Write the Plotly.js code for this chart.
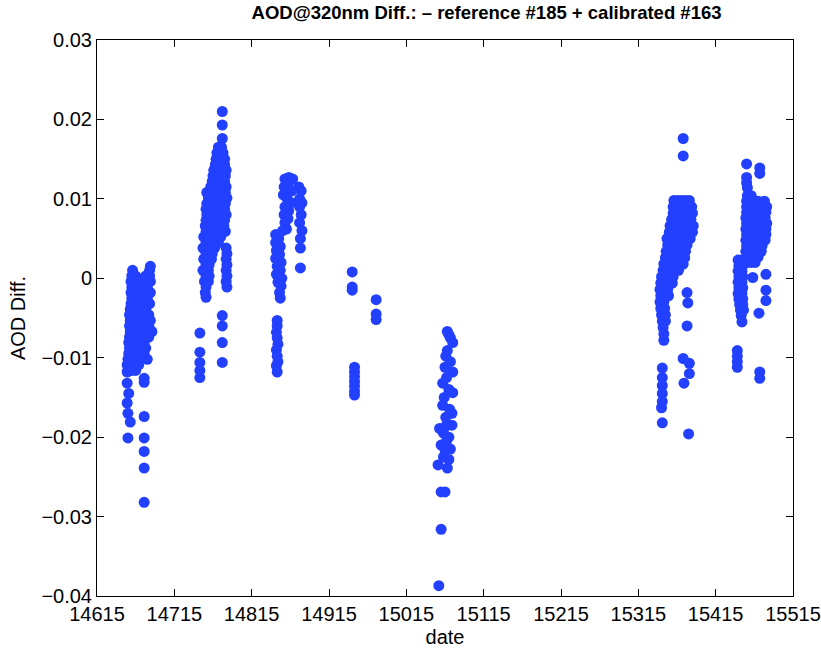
<!DOCTYPE html>
<html>
<head>
<meta charset="utf-8">
<script src="https://cdn.plot.ly/plotly-3.0.1.min.js"></script>
<style>html,body{margin:0;padding:0;background:#fff}#chart{width:821px;height:650px}</style>
</head>
<body>
<div id="chart"></div>
<script>
// Cluster A
var dateA = [14661,14683,14684,
 14660,14665,14678,14683,
 14659,14664,14669,14674,14679,14684,
 14660,14665,14670,14675,14680,
 14659,14664,14669,14674,14679,14684,
 14660,14665,14670,14675,14680,
 14659,14664,14669,14674,14679,14683,
 14658,14663,14668,14673,14678,
 14657,14662,14667,14672,14677,14682,
 14658,14663,14668,14673,14678,14684,
 14657,14662,14667,14672,14677,14682,
 14658,14663,14668,14673,14678,14686,
 14657,14662,14667,14672,14677,14682,
 14656,14661,14666,14671,14676,
 14657,14662,14667,14672,14678,
 14656,14661,14666,14671,14676,
 14655,14660,14665,14670,14680,
 14654,14659,14664,14669,
 14655,14660,14665,
 14654,14654,14656,14654,14655,14658,14655,
 14676,14676,14676,14676,14676,14676,14676];
var aodA  = [0.001,0.001,0.0015,
 0.0003,0.0003,0.0003,0.0003,
 -0.0004,-0.0004,-0.0004,-0.0004,-0.0004,-0.0004,
 -0.0011,-0.0011,-0.0011,-0.0011,-0.0011,
 -0.0018,-0.0018,-0.0018,-0.0018,-0.0018,-0.0018,
 -0.0025,-0.0025,-0.0025,-0.0025,-0.0025,
 -0.0032,-0.0032,-0.0032,-0.0032,-0.0032,-0.0032,
 -0.0039,-0.0039,-0.0039,-0.0039,-0.0039,
 -0.0046,-0.0046,-0.0046,-0.0046,-0.0046,-0.0046,
 -0.0053,-0.0053,-0.0053,-0.0053,-0.0053,-0.0053,
 -0.006,-0.006,-0.006,-0.006,-0.006,-0.006,
 -0.0067,-0.0067,-0.0067,-0.0067,-0.0067,-0.0067,
 -0.0074,-0.0074,-0.0074,-0.0074,-0.0074,-0.0074,
 -0.0081,-0.0081,-0.0081,-0.0081,-0.0081,
 -0.0088,-0.0088,-0.0088,-0.0088,-0.0088,
 -0.0095,-0.0095,-0.0095,-0.0095,-0.0095,
 -0.0102,-0.0102,-0.0102,-0.0102,-0.0102,
 -0.0109,-0.0109,-0.0109,-0.0109,
 -0.0116,-0.0116,-0.0116,
 -0.0118,-0.0132,-0.0145,-0.0157,-0.017,-0.0181,-0.0201,
 -0.0126,-0.0131,-0.0174,-0.0201,-0.0218,-0.0239,-0.0282];
// Cluster B
var dateB = [14777,14777,14777,
 14772,14776,
 14770,14774,14778,
 14769,14773,14777,14780,
 14768,14772,14776,14780,
 14766,14770,14774,14778,14782,
 14765,14769,14773,14777,14781,
 14764,14768,14772,14776,14780,
 14762,14766,14770,14774,14778,14782,
 14757,14761,14765,14769,14773,14777,14781,
 14759,14763,14767,14771,14775,14779,14783,
 14757,14761,14765,14769,14773,14777,14781,
 14756,14760,14764,14768,14772,14776,14780,
 14757,14761,14765,14769,14773,14777,14782,
 14756,14760,14764,14768,14772,14776,14780,
 14755,14759,14763,14767,14771,14775,14779,
 14756,14760,14764,14768,14772,14776,14781,
 14753,14759,14763,14767,14771,14775,
 14756,14760,14764,14768,14772,
 14752,14759,14763,14767,14782,
 14756,14760,14764,14783,
 14753,14759,14763,14782,
 14756,14760,14783,
 14752,14759,14782,
 14756,14760,14783,
 14754,14759,14782,
 14756,14783,
 14755,14756,
 14777,14777,14777,14777,
 14748,14748,14748,14748,14748];
var aodB  = [0.021,0.0193,0.0176,
 0.0165,0.0165,
 0.0158,0.0158,0.0158,
 0.015,0.015,0.015,0.015,
 0.0143,0.0143,0.0143,0.0143,
 0.0136,0.0136,0.0136,0.0136,0.0136,
 0.0129,0.0129,0.0129,0.0129,0.0129,
 0.0122,0.0122,0.0122,0.0122,0.0122,
 0.0115,0.0115,0.0115,0.0115,0.0115,0.0115,
 0.0108,0.0108,0.0108,0.0108,0.0108,0.0108,0.0108,
 0.0101,0.0101,0.0101,0.0101,0.0101,0.0101,0.0101,
 0.0094,0.0094,0.0094,0.0094,0.0094,0.0094,0.0094,
 0.0087,0.0087,0.0087,0.0087,0.0087,0.0087,0.0087,
 0.008,0.008,0.008,0.008,0.008,0.008,0.008,
 0.0073,0.0073,0.0073,0.0073,0.0073,0.0073,0.0073,
 0.0066,0.0066,0.0066,0.0066,0.0066,0.0066,0.0066,
 0.0059,0.0059,0.0059,0.0059,0.0059,0.0059,0.0059,
 0.0052,0.0052,0.0052,0.0052,0.0052,0.0052,
 0.0045,0.0045,0.0045,0.0045,0.0045,
 0.0038,0.0038,0.0038,0.0038,0.0038,
 0.0031,0.0031,0.0031,0.0031,
 0.0024,0.0024,0.0024,0.0024,
 0.0017,0.0017,0.0017,
 0.001,0.001,0.001,
 0.0003,0.0003,0.0003,
 -0.0004,-0.0004,-0.0004,
 -0.0011,-0.0011,
 -0.0018,-0.0024,
 -0.0047,-0.006,-0.0081,-0.0106,
 -0.0069,-0.0093,-0.0106,-0.0116,-0.0125];
// Cluster C
var dateC = [14858,14863,14868,14857,14862,14867,14856,14861,14866,14858,14863,14857,14862,14858,14855,14860,14876,14879,14877,14880,14877,14879,14877,14880,14878,14878,14878,14846,14850,14846,14852,14847,14851,14846,14853,14848,14852,14847,14854,14849,14853,14851,14852,14848,14848,14847,14848,14849,14847,14848,14849,14847,14848];
var aodC  = [0.0125,0.0127,0.0125,0.0115,0.0118,0.011,0.0105,0.010,0.0095,0.009,0.0085,0.008,0.0075,0.007,0.006,0.0062,0.0115,0.011,0.010,0.0095,0.009,0.008,0.007,0.006,0.005,0.0038,0.0013,0.0055,0.005,0.0045,0.004,0.0035,0.003,0.0025,0.002,0.0015,0.001,0.0005,0.000,-0.0005,-0.001,-0.0018,-0.0025,-0.0053,-0.006,-0.0068,-0.0075,-0.0083,-0.009,-0.0098,-0.0105,-0.011,-0.0118];
// Cluster D
var dateD = [14945,14945,14945,14976,14976,14976,14948,14948,14948,14948,14948,14948,14948];
var aodD  = [0.0008,-0.0011,-0.0015,-0.0027,-0.0045,-0.0052,-0.0112,-0.0118,-0.0124,-0.013,-0.0136,-0.0142,-0.0147];
// Cluster E
var dateE = [15068,15075,15068,15065,15075,15062,15075,15062,15074,15065,15074,15058,15065,15068,15056,15060,15065,15060,15057,15063,15070,15067,15060,15072,15063,15070,15066,15071,15064,15070,15067,15072,15066,15070,15072];
var aodE  = [-0.0067,-0.0081,-0.0091,-0.0112,-0.0118,-0.0132,-0.0144,-0.016,-0.017,-0.0187,-0.0185,-0.0189,-0.0216,-0.0239,-0.0235,-0.0269,-0.0269,-0.0316,-0.0387,-0.0195,-0.02,-0.0205,-0.021,-0.0215,-0.0225,-0.0228,-0.0175,-0.0165,-0.015,-0.014,-0.0125,-0.0105,-0.0098,-0.0071,-0.0075];
// Cluster F
var dateF = [15373,15373,
 15361,15366,15371,15376,15381,
 15360,15365,15370,15375,15380,15384,
 15360,15365,15370,15375,15380,15385,
 15358,15363,15368,15373,15378,15383,
 15356,15361,15366,15371,15376,15381,15386,
 15355,15360,15365,15370,15375,15380,15385,
 15352,15357,15362,15367,15372,15377,15382,
 15353,15358,15363,15368,15373,15378,
 15351,15356,15361,15366,15371,15376,
 15350,15355,15360,15365,15370,15375,
 15348,15353,15358,15363,15368,15373,
 15347,15352,15357,15362,15367,
 15345,15350,15355,15360,
 15344,15349,15354,15359,
 15343,15348,15353,
 15344,15349,15354,
 15343,15348,
 15344,15349,
 15345,15350,
 15346,15350,
 15347,15348,15348,
 15378,15379,15378,
 15373,15381,15381,15374,
 15346,15346,15346,15346,15346,15345,15346,15380];
var aodF  = [0.0176,0.0154,
 0.0098,0.0098,0.0098,0.0098,0.0098,
 0.009,0.009,0.009,0.009,0.009,0.009,
 0.0082,0.0082,0.0082,0.0082,0.0082,0.0082,
 0.0074,0.0074,0.0074,0.0074,0.0074,0.0074,
 0.0066,0.0066,0.0066,0.0066,0.0066,0.0066,0.0066,
 0.0058,0.0058,0.0058,0.0058,0.0058,0.0058,0.0058,
 0.005,0.005,0.005,0.005,0.005,0.005,0.005,
 0.0042,0.0042,0.0042,0.0042,0.0042,0.0042,
 0.0034,0.0034,0.0034,0.0034,0.0034,0.0034,
 0.0026,0.0026,0.0026,0.0026,0.0026,0.0026,
 0.0018,0.0018,0.0018,0.0018,0.0018,0.0018,
 0.001,0.001,0.001,0.001,0.001,
 0.0002,0.0002,0.0002,0.0002,
 -0.0006,-0.0006,-0.0006,-0.0006,
 -0.0014,-0.0014,-0.0014,
 -0.0022,-0.0022,-0.0022,
 -0.003,-0.003,
 -0.0038,-0.0038,
 -0.0046,-0.0046,
 -0.0054,-0.0054,
 -0.0062,-0.007,-0.0078,
 -0.0018,-0.0031,-0.006,
 -0.0101,-0.0107,-0.012,-0.0132,
 -0.0113,-0.0125,-0.0135,-0.0145,-0.0155,-0.0163,-0.0182,-0.0196];
// Cluster G
var dateG = [15455,15472,15472,15455,15455,15456,
 15456,15461,
 15455,15460,15465,15470,15478,
 15455,15460,15465,15470,15475,15481,
 15455,15460,15465,15470,15475,15480,
 15454,15459,15464,15469,15474,15479,
 15455,15460,15465,15470,15475,15481,
 15454,15459,15464,15469,15474,15480,
 15455,15460,15465,15470,15475,15480,
 15454,15459,15464,15469,15474,15479,
 15455,15460,15465,15470,15475,
 15454,15459,15464,15469,15474,
 15455,15460,15465,15470,
 15456,15461,15466,
 15444,15449,15445,15450,15444,15449,15445,15450,15444,15449,15445,15450,15444,15449,15445,15450,15446,15450,15447,15451,15448,15449,
 15463,15480,15480,15480,15471,
 15443,15443,15443,15443,15472,15472];
var aodG  = [0.0144,0.0139,0.0132,0.0127,0.012,0.0114,
 0.0104,0.0104,
 0.0097,0.0097,0.0097,0.0097,0.0097,
 0.009,0.009,0.009,0.009,0.009,0.009,
 0.0083,0.0083,0.0083,0.0083,0.0083,0.0083,
 0.0076,0.0076,0.0076,0.0076,0.0076,0.0076,
 0.0069,0.0069,0.0069,0.0069,0.0069,0.0069,
 0.0062,0.0062,0.0062,0.0062,0.0062,0.0062,
 0.0055,0.0055,0.0055,0.0055,0.0055,0.0055,
 0.0048,0.0048,0.0048,0.0048,0.0048,0.0048,
 0.0041,0.0041,0.0041,0.0041,0.0041,
 0.0034,0.0034,0.0034,0.0034,0.0034,
 0.0027,0.0027,0.0027,0.0027,
 0.002,0.002,0.002,
 0.0023,0.0023,0.0016,0.0016,0.0009,0.0009,0.0002,0.0002,-0.0005,-0.0005,-0.0012,-0.0012,-0.0019,-0.0019,-0.0026,-0.0026,-0.0033,-0.0033,-0.004,-0.004,-0.0047,-0.0055,
 0.0001,0.0005,-0.0015,-0.0028,-0.0044,
 -0.0091,-0.0098,-0.0105,-0.0112,-0.0118,-0.0126];

var xTicks = [14615,14715,14815,14915,15015,15115,15215,15315,15415,15515];
var yTicks = [-0.04,-0.03,-0.02,-0.01,0,0.01,0.02,0.03];
var yTickText = ['\u22120.04','\u22120.03','\u22120.02','\u22120.01','0','0.01','0.02','0.03'];

var dates = [].concat(dateA,dateB,dateC,dateD,dateE,dateF,dateG);
var aods = [].concat(aodA,aodB,aodC,aodD,aodE,aodF,aodG);

var trace = {
  x: dates, y: aods, type: 'scatter', mode: 'markers',
  marker: {color: '#2340ff', size: 11, line: {width: 0}},
  hoverinfo: 'skip'
};
var fam = 'Liberation Sans, Arial, sans-serif';
var layout = {
  width: 821, height: 650,
  margin: {l: 97, r: 28, t: 40, b: 54},
  paper_bgcolor: '#fff', plot_bgcolor: '#fff',
  showlegend: false,
  title: {text: '<b>AOD@320nm Diff.: \u2013 reference #185 + calibrated #163</b>',
          font: {family: fam, size: 18.5, color: '#000'}, x: 0.5926, xanchor: 'center', y: 0.99, yanchor: 'top'},
  xaxis: {
    range: [14615, 15515], tickvals: xTicks, ticktext: xTicks.map(String),
    ticks: 'inside', ticklen: 7, tickcolor: '#000', mirror: 'ticks',
    showline: true, linecolor: '#000', linewidth: 1, showgrid: false, zeroline: false,
    tickfont: {family: fam, size: 20, color: '#000'},
    title: {text: 'date', font: {family: fam, size: 20, color: '#000'}, standoff: 5}
  },
  yaxis: {
    range: [-0.04, 0.03], tickvals: yTicks, ticktext: yTickText,
    ticks: 'inside', ticklen: 7, tickcolor: '#000', mirror: 'ticks',
    showline: true, linecolor: '#000', linewidth: 1, showgrid: false, zeroline: false,
    tickfont: {family: fam, size: 20, color: '#000'},
    title: {text: 'AOD Diff.', font: {family: fam, size: 20, color: '#000'}, standoff: 10}
  }
};
Plotly.newPlot('chart', [trace], layout, {displayModeBar: false, staticPlot: true});
</script>
</body>
</html>
